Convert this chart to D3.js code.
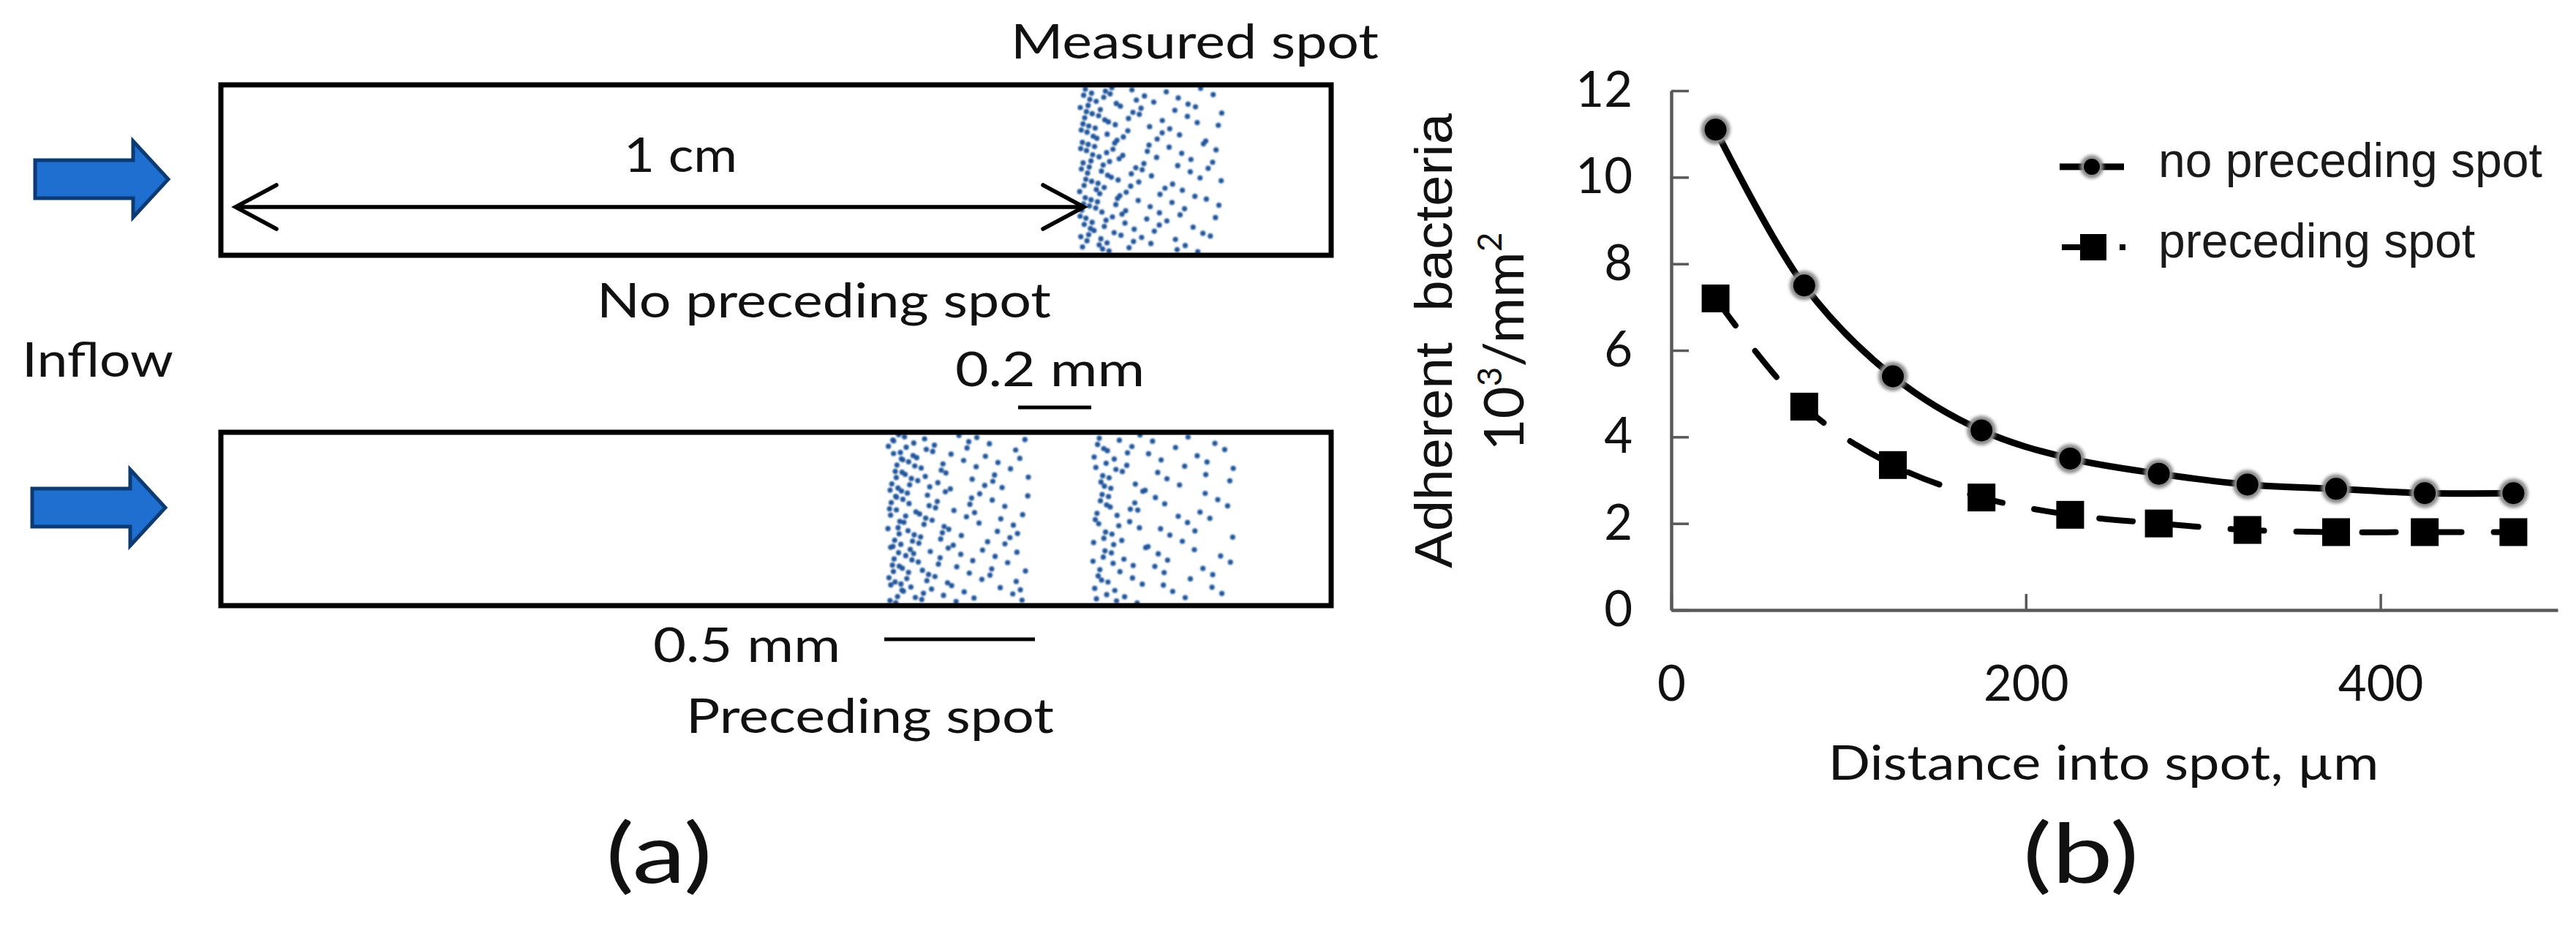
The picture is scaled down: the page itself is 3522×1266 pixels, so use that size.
<!DOCTYPE html>
<html>
<head>
<meta charset="utf-8">
<script src="https://cdn.jsdelivr.net/npm/d3@7"></script>
<style>
  html, body { margin: 0; padding: 0; background: #fff; }
  svg { display: block; }
</style>
</head>
<body>
<svg id="fig" width="3522" height="1266"></svg>
<script>
// distance into spot (um), centre of each 50 um bin
const distance = [25, 75, 125, 175, 225, 275, 325, 375, 425, 475]
// adherent bacteria, 10^3 / mm^2
const noPreceding = [11.1, 7.5, 5.4, 4.15, 3.5, 3.15, 2.9, 2.8, 2.7, 2.7]
const preceding = [7.2, 4.7, 3.35, 2.6, 2.2, 2.0, 1.85, 1.8, 1.8, 1.8]
const xTicks = [0, 200, 400]
const yTicks = [0, 2, 4, 6, 8, 10, 12]
const seriesNames = ['no preceding spot', 'preceding spot']

const svg = d3.select('#fig')
svg.append('rect').attr('width', 3522).attr('height', 1266).attr('fill', '#fff')

const calibriLike = 'Lato, "Open Sans", sans-serif'
const arialLike = '"Liberation Sans", Arial, sans-serif'

const defs = svg.append('defs')
defs.append('filter').attr('id', 'soft').attr('x', '-50%').attr('y', '-50%').attr('width', '200%').attr('height', '200%')
  .append('feGaussianBlur').attr('stdDeviation', 2.2)
defs.append('filter').attr('id', 'dotblur').attr('x', '-50%').attr('y', '-50%').attr('width', '200%').attr('height', '200%')
  .append('feGaussianBlur').attr('stdDeviation', 0.8)

function label (g, txt, x, y, size, opts = {}) {
  let t = g.append('text')
    .attr('x', x).attr('y', y)
    .attr('font-family', opts.family || calibriLike)
    .attr('font-size', size)
    .attr('fill', opts.fill || '#111')
    .attr('text-anchor', opts.anchor || 'start')
    .text(txt)
  if (opts.width) t.attr('textLength', opts.width).attr('lengthAdjust', 'spacingAndGlyphs')
  return t
}

// van der Corput / Halton term, used to spread the sketch dots evenly
function halton (i, b) {
  let f = 1, r = 0
  while (i > 0) {
    f = f / b
    r = r + f * (i % b)
    i = Math.floor(i / b)
  }
  return r
}

// ---------------- panel (a): flow channel sketch ----------------
const pa = svg.append('g')

const channels = [
  { x0: 302, x1: 1820, y0: 116, y1: 349, arrowY: 245, arrowDx: 0 },
  { x0: 302, x1: 1820, y0: 591, y1: 828, arrowY: 694, arrowDx: -4 }
]

// spots: left edge, channel, which profile sets the dot density
const spots = [
  { x0: 1476, ch: 0, profile: noPreceding },
  { x0: 1214, ch: 1, profile: noPreceding },
  { x0: 1494, ch: 1, profile: preceding }
]
const binW = 19.5
const dotsPerUnit = 3.8

spots.forEach((s, si) => {
  const ch = channels[s.ch]
  const top = ch.y0 + 3
  const h = ch.y1 - ch.y0 - 6
  let n = 1 + si * 211
  const pts = []
  s.profile.forEach((v, bi) => {
    const count = Math.round(v * dotsPerUnit)
    for (let k = 0; k < count; k++, n++) {
      pts.push([
        s.x0 + bi * binW + binW * halton(n, 5),
        top + h * halton(n, 3)
      ])
    }
  })
  pa.append('g').attr('filter', 'url(#dotblur)')
    .selectAll('circle').data(pts).join('circle')
    .attr('cx', d => d[0]).attr('cy', d => d[1]).attr('r', 3.6)
    .attr('fill', '#22569a')
})

channels.forEach((c) => {
  pa.append('rect')
    .attr('x', c.x0).attr('y', c.y0)
    .attr('width', c.x1 - c.x0).attr('height', c.y1 - c.y0)
    .attr('fill', 'none').attr('stroke', '#000').attr('stroke-width', 7)

  // blue inflow arrow
  const ax = 48 + c.arrowDx
  const ay = c.arrowY
  const p = d3.path()
  p.moveTo(ax, ay - 26)
  p.lineTo(ax + 134, ay - 26)
  p.lineTo(ax + 134, ay - 52)
  p.lineTo(ax + 182, ay)
  p.lineTo(ax + 134, ay + 52)
  p.lineTo(ax + 134, ay + 26)
  p.lineTo(ax, ay + 26)
  p.closePath()
  pa.append('path').attr('d', p.toString())
    .attr('fill', '#1f6fd0').attr('stroke', '#0c3a72').attr('stroke-width', 5)
    .attr('stroke-linejoin', 'miter')
})

// 1 cm double arrow
const da = { x0: 322, x1: 1482, y: 283, hx: 56, hy: 30 }
const dp = d3.path()
dp.moveTo(da.x0, da.y); dp.lineTo(da.x1, da.y)
dp.moveTo(da.x0 + da.hx, da.y - da.hy); dp.lineTo(da.x0, da.y); dp.lineTo(da.x0 + da.hx, da.y + da.hy)
dp.moveTo(da.x1 - da.hx, da.y - da.hy); dp.lineTo(da.x1, da.y); dp.lineTo(da.x1 - da.hx, da.y + da.hy)
pa.append('path').attr('d', dp.toString())
  .attr('fill', 'none').attr('stroke', '#000').attr('stroke-width', 5.5)
  .attr('stroke-linecap', 'round').attr('stroke-linejoin', 'miter')

// scale bars
pa.append('line').attr('x1', 1392).attr('x2', 1492).attr('y1', 557).attr('y2', 557)
  .attr('stroke', '#000').attr('stroke-width', 5)
pa.append('line').attr('x1', 1209).attr('x2', 1415).attr('y1', 874).attr('y2', 874)
  .attr('stroke', '#000').attr('stroke-width', 5)

label(pa, 'Measured spot', 1382, 80, 66, { width: 503 })
label(pa, '1 cm', 853, 235, 66, { width: 155 })
label(pa, 'No preceding spot', 816, 434, 66, { width: 621 })
label(pa, 'Inflow', 30, 515, 66, { width: 207 })
label(pa, '0.2 mm', 1306, 528, 66, { width: 259 })
label(pa, '0.5 mm', 893, 905, 66, { width: 256 })
label(pa, 'Preceding spot', 938, 1002, 66, { width: 503 })
label(pa, '(a)', 901, 1207, 112, { anchor: 'middle', width: 146 })

// ---------------- panel (b): adherent bacteria vs distance ----------------
const pb = svg.append('g')
const x = d3.scaleLinear().domain([0, 500]).range([2285, 3497])
const y = d3.scaleLinear().domain([0, 12]).range([834, 124])

const axisColor = '#595959'

const gy = pb.append('g').attr('transform', `translate(${x(0)},0)`)
  .call(d3.axisLeft(y).tickValues(yTicks).tickSizeInner(-24).tickSizeOuter(0).tickPadding(53).tickFormat(d3.format('d')))
const gx = pb.append('g').attr('transform', `translate(0,${y(0)})`)
  .call(d3.axisBottom(x).tickValues(xTicks).tickSizeInner(-22).tickSizeOuter(0).tickPadding(76).tickFormat(d3.format('d')))

;[gx, gy].forEach((g) => {
  g.attr('font-family', null).attr('font-size', null)
  g.select('.domain').attr('stroke', axisColor).attr('stroke-width', 4.5)
  g.selectAll('.tick line').attr('stroke', axisColor).attr('stroke-width', 3.5)
  g.selectAll('.tick text')
    .attr('font-family', calibriLike).attr('font-size', 67).attr('fill', '#111')
})

const curve = d3.line()
  .x((d, i) => x(distance[i]))
  .y(d => y(d))
  .curve(d3.curveCatmullRom.alpha(0.5))

// preceding spot: dashed line + squares
pb.append('path').datum(preceding).attr('d', curve)
  .attr('fill', 'none').attr('stroke', '#000').attr('stroke-width', 8)
  .attr('stroke-dasharray', '46,44').attr('stroke-linecap', 'round')
pb.append('g').selectAll('rect').data(preceding).join('rect')
  .attr('x', (d, i) => x(distance[i]) - 19).attr('y', d => y(d) - 19)
  .attr('width', 38).attr('height', 38).attr('fill', '#000')

// no preceding spot: smooth solid line + circles with grey halo
pb.append('path').datum(noPreceding).attr('d', curve)
  .attr('fill', 'none').attr('stroke', '#000').attr('stroke-width', 9)
const circ = pb.append('g').selectAll('g').data(noPreceding).join('g')
  .attr('transform', (d, i) => `translate(${x(distance[i])},${y(d)})`)
circ.append('circle').attr('r', 20).attr('fill', '#8c8c8c').attr('filter', 'url(#soft)')
circ.append('circle').attr('r', 15).attr('fill', '#000')

// legend
const legend = pb.append('g')
const rows = [228, 338]
legend.append('line').attr('x1', 2816).attr('x2', 2904).attr('y1', rows[0]).attr('y2', rows[0])
  .attr('stroke', '#000').attr('stroke-width', 9)
legend.append('circle').attr('cx', 2860).attr('cy', rows[0]).attr('r', 16)
  .attr('fill', '#8c8c8c').attr('filter', 'url(#soft)')
legend.append('circle').attr('cx', 2860).attr('cy', rows[0]).attr('r', 11).attr('fill', '#000')
legend.append('line').attr('x1', 2819).attr('x2', 2906).attr('y1', rows[1]).attr('y2', rows[1])
  .attr('stroke', '#000').attr('stroke-width', 8).attr('stroke-dasharray', '50,29,8')
legend.append('rect').attr('x', 2862 - 18).attr('y', rows[1] - 18).attr('width', 36).attr('height', 36)
  .attr('fill', '#000')
seriesNames.forEach((name, i) => {
  label(legend, name, 2951, rows[i] + 14, 66, { family: arialLike, fill: '#1a1a1a' })
})

// axis titles
pb.append('text')
  .attr('transform', 'translate(1985,466) rotate(-90)')
  .attr('text-anchor', 'middle')
  .attr('font-family', arialLike).attr('font-size', 72).attr('fill', '#111')
  .attr('textLength', 622).attr('lengthAdjust', 'spacingAndGlyphs')
  .attr('xml:space', 'preserve')
  .text('Adherent  bacteria')

const unit = pb.append('text')
  .attr('transform', 'translate(2083,467) rotate(-90)')
  .attr('text-anchor', 'middle')
  .attr('font-family', calibriLike).attr('font-size', 76).attr('fill', '#111')
unit.append('tspan').text('10')
unit.append('tspan').attr('font-size', 46).attr('dy', -30).text('3')
unit.append('tspan').attr('dy', 30).text('/mm')
unit.append('tspan').attr('font-size', 46).attr('dy', -30).text('2')

label(pb, 'Distance into spot, \u00b5m', 2876, 1066, 66, { anchor: 'middle', width: 753 })
label(pb, '(b)', 2845, 1207, 112, { anchor: 'middle', width: 159 })
</script>
</body>
</html>
